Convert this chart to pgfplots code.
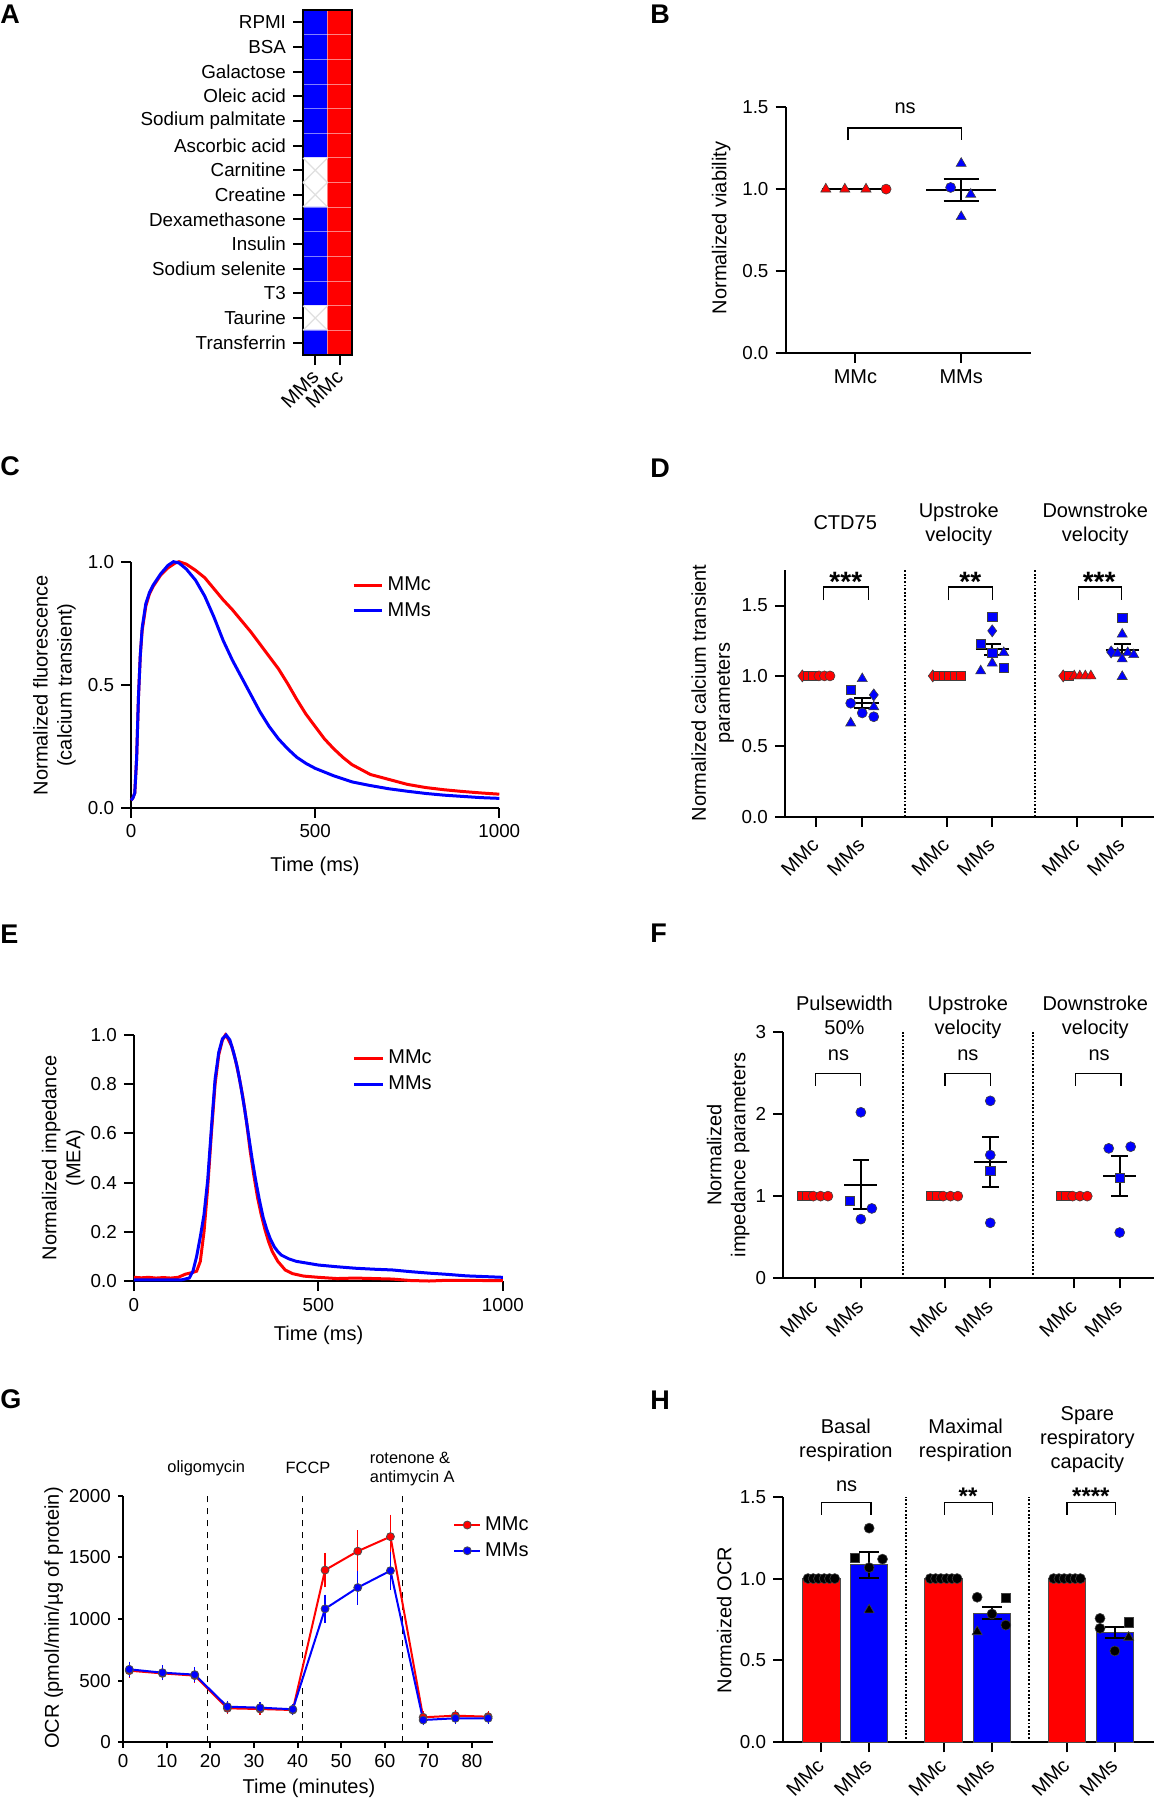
\documentclass[border=0pt]{standalone}
\usepackage{fontspec}
\setmainfont{Liberation Sans}
\usepackage{pgfplots}
\pgfplotsset{compat=1.18}

\definecolor{mred}{RGB}{255,0,0}
\definecolor{mblue}{RGB}{0,0,255}

\newcommand\fTick{\fontsize{9.4}{11}\selectfont}
\newcommand\fLab{\fontsize{10}{12}\selectfont}
\newcommand\fSmall{\fontsize{8.2}{9.5}\selectfont}
\newcommand\fPanel{\fontsize{13.5}{16}\selectfont\bfseries}
\newcommand\fStarD{\fontsize{14}{16}\selectfont\bfseries}
\newcommand\fStarH{\fontsize{12}{14}\selectfont\bfseries}

\tikzset{
  sep/.style={line width=0.9pt, dash pattern=on 0.9pt off 0.9pt},
  brk/.style={line width=0.6pt},
}
\pgfplotsset{
  prism/.style={
    anchor=south west, scale only axis, clip=false,
    axis x line=bottom, axis y line=left,
    axis line style={line width=1pt, -},
    tick align=outside, major tick length=5pt,
    tick style={line width=1pt, black},
    tick label style={font=\fTick},
    /pgf/number format/assume math mode=true,
    /pgf/number format/1000 sep={},
    scaled ticks=false,
  },
  dec1/.style={yticklabel style={/pgf/number format/.cd, fixed, fixed zerofill, precision=1, /tikz/.cd}},
  groups/.style={xticklabel style={font=\fLab, xshift=2pt, yshift=#1, rotate=45, anchor=east}},
  groups/.default=-5pt,
  dots/.style={only marks, scatter, scatter src=explicit symbolic, line width=0.3pt,
    scatter/classes={
      c={mark=*, mark size=2.5pt, fill=#1, draw=black!75},
      s={mark=square*, mark size=2.3pt, fill=#1, draw=black!75},
      t={mark=triangle*, mark size=2.9pt, fill=#1, draw=black!75},
      d={mark=diamond*, mark size=3pt, fill=#1, draw=black!75}}},
  sem/.style={black, line width=1pt, unbounded coords=jump, forget plot},
}

\begin{document}
\begin{tikzpicture}
\path[use as bounding box] (0pt,0pt) rectangle (577.5pt,-900pt);

% ---------------- A: medium composition
\begin{axis}[at={(151.5pt,-177.5pt)}, anchor=south west, scale only axis,
  width=24.5pt, height=172.5pt,
  xmin=-0.5, xmax=1.5, ymin=-0.5, ymax=13.5, y dir=reverse, enlargelimits=false,
  axis on top, tick pos=left, tick align=outside, major tick length=5pt,
  tick style={line width=1pt, black}, axis line style={line width=1.3pt},
  xtick={0,1}, xticklabels={MMs,MMc},
  ytick={0,1,...,13},
  yticklabels={RPMI,BSA,Galactose,Oleic acid,Sodium palmitate,Ascorbic acid,Carnitine,Creatine,Dexamethasone,Insulin,Sodium selenite,T3,Taurine,Transferrin},
  minor xtick={0.5}, minor ytick={0.5,1.5,...,12.5}, minor tick length=0pt,
  xminorgrids, yminorgrids, minor grid style={white, opacity=0.5, line width=0.4pt},
  tick label style={font=\fTick},
  xticklabel style={font=\fLab, xshift=2.5pt, yshift=-2pt, rotate=45, anchor=east},
  colormap={hm}{rgb255=(255,255,255) rgb255=(0,0,255) rgb255=(255,0,0)},
  point meta min=0, point meta max=2]
\addplot[matrix plot*, mesh/cols=2, point meta=explicit] table[meta=c] {
x y c
0 0 1
1 0 2
0 1 1
1 1 2
0 2 1
1 2 2
0 3 1
1 3 2
0 4 1
1 4 2
0 5 1
1 5 2
0 6 0
1 6 2
0 7 0
1 7 2
0 8 1
1 8 2
0 9 1
1 9 2
0 10 1
1 10 2
0 11 1
1 11 2
0 12 0
1 12 2
0 13 1
1 13 2
};
\addplot[only marks, mark=x, mark size=8.7pt, black!12, line width=0.6pt] coordinates {(0,6) (0,7) (0,12)};
\end{axis}

% ---------------- B: viability
\begin{axis}[prism, dec1, at={(392.75pt,-176.35pt)}, width=122.75pt, height=122.7pt,
  xmin=0.339, xmax=2.66, ymin=0, ymax=1.5,
  xtick={1,2}, xticklabels={MMc,MMs}, xticklabel style={font=\fLab},
  ytick={0,0.5,1,1.5}]
\addplot[sem] coordinates {(0.68,1) (1.32,1)};
\addplot[dots=mred] table[meta=c] {
x y c
0.72 1.0 t
0.90 1.0 t
1.10 1.0 t
1.29 1.0 c
};
\addplot[dots=mblue] table[meta=c] {
x y c
2.00 1.157 t
1.90 1.010 c
2.09 0.968 t
2.00 0.831 t
};
\addplot[sem] coordinates {(1.67,0.994) (2.33,0.994) (nan,nan) (2,0.925) (2,1.059) (nan,nan) (1.835,0.925) (2.165,0.925) (nan,nan) (1.835,1.059) (2.165,1.059)};
\draw[brk] (axis cs:0.93,1.30) |- (axis cs:2.0,1.374) -- (axis cs:2.0,1.30);
\node[font=\fLab, anchor=base] at (axis cs:1.47,1.462) {ns};
\end{axis}

% ---------------- C: calcium transient
\begin{axis}[prism, dec1, at={(65.55pt,-403.85pt)}, width=184.1pt, height=123pt,
  xmin=0, xmax=1000, ymin=0, ymax=1,
  xtick={0,500,1000}, ytick={0,0.5,1},
  legend style={at={(0.599,0.852)}, anchor=west, draw=none, fill=none, font=\fLab, inner sep=0pt, row sep=0.5pt},
  legend cell align=left,
  legend image code/.code={\draw[#1] (0pt,0pt) -- (14.3pt,0pt);}]
\addplot[mred, line width=1.5pt] coordinates {
(0,0.03) (5,0.04) (10,0.06) (15,0.2) (20,0.45) (25,0.62) (30,0.72) (40,0.82) (50,0.87)
(60,0.9) (80,0.945) (100,0.975) (120,0.995) (130,1.0) (150,0.99) (175,0.965) (200,0.935)
(225,0.89) (250,0.845) (275,0.805) (300,0.76) (325,0.715) (350,0.665) (375,0.615)
(400,0.565) (425,0.505) (450,0.44) (475,0.38) (500,0.33) (525,0.28) (550,0.24)
(575,0.205) (600,0.175) (650,0.135) (700,0.115) (750,0.095) (800,0.082) (850,0.073)
(900,0.066) (950,0.06) (1000,0.055)};
\addlegendentry{MMc}
\addplot[mblue, line width=1.5pt] coordinates {
(0,0.03) (5,0.04) (10,0.06) (15,0.2) (20,0.45) (25,0.62) (30,0.73) (40,0.83) (50,0.875)
(60,0.905) (80,0.95) (100,0.985) (115,1.0) (130,0.995) (150,0.97) (175,0.925) (200,0.86)
(225,0.775) (250,0.68) (275,0.6) (300,0.53) (325,0.46) (350,0.39) (375,0.33) (400,0.28)
(425,0.24) (450,0.205) (475,0.18) (500,0.16) (550,0.13) (600,0.105) (650,0.09)
(700,0.077) (750,0.067) (800,0.058) (850,0.051) (900,0.046) (950,0.041) (1000,0.038)};
\addlegendentry{MMs}
\end{axis}

% ---------------- D: calcium transient parameters
\begin{axis}[prism, groups, dec1, at={(392.4pt,-408.35pt)}, width=184.6pt, height=123.2pt,
  xmin=-0.68, xmax=7.33, ymin=0, ymax=1.75,
  xtick={0,1,2.83,3.82,5.66,6.64}, xticklabels={MMc,MMs,MMc,MMs,MMc,MMs},
  ytick={0,0.5,1,1.5}]
\draw[sep] (axis cs:1.925,0) -- (axis cs:1.925,1.75);
\draw[sep] (axis cs:4.74,0) -- (axis cs:4.74,1.75);
\addplot[dots=mred] table[meta=c] {
x y c
-0.30 1 d
-0.18 1 s
-0.06 1 s
0.06 1 c
0.18 1 c
0.30 1 c
2.53 1 d
2.65 1 s
2.77 1 s
2.89 1 s
3.01 1 s
3.13 1 s
5.36 1 d
5.48 1 s
5.60 1 t
5.72 1 t
5.84 1 t
5.96 1 t
};
\addplot[dots=mblue] table[meta=c] {
x y c
1.00 0.98 t
0.75 0.90 s
1.25 0.865 d
0.75 0.806 c
1.25 0.78 t
1.00 0.737 c
1.25 0.71 c
0.75 0.665 t
3.82 1.42 s
3.82 1.32 d
3.57 1.23 s
3.82 1.165 s
4.07 1.165 t
3.82 1.09 t
3.57 1.035 t
4.07 1.055 s
6.64 1.415 s
6.64 1.296 t
6.40 1.17 d
6.54 1.16 t
6.76 1.165 t
6.89 1.15 t
6.64 1.12 t
6.64 0.995 t
};
\addplot[sem] coordinates {(-0.36,1) (0.36,1)};
\addplot[sem] coordinates {(2.47,1) (3.19,1)};
\addplot[sem] coordinates {(5.30,1) (6.02,1)};
\addplot[sem] coordinates {(0.64,0.805) (1.36,0.805) (nan,nan) (1,0.77) (1,0.84) (nan,nan) (0.82,0.77) (1.18,0.77) (nan,nan) (0.82,0.84) (1.18,0.84)};
\addplot[sem] coordinates {(3.46,1.19) (4.18,1.19) (nan,nan) (3.82,1.15) (3.82,1.23) (nan,nan) (3.64,1.15) (4.00,1.15) (nan,nan) (3.64,1.23) (4.00,1.23)};
\addplot[sem] coordinates {(6.28,1.184) (7.00,1.184) (nan,nan) (6.64,1.155) (6.64,1.23) (nan,nan) (6.46,1.155) (6.82,1.155) (nan,nan) (6.46,1.23) (6.82,1.23)};
\draw[brk] (axis cs:0.16,1.539) |- (axis cs:1.13,1.631) -- (axis cs:1.13,1.539);
\draw[brk] (axis cs:2.87,1.539) |- (axis cs:3.83,1.631) -- (axis cs:3.83,1.539);
\draw[brk] (axis cs:5.69,1.539) |- (axis cs:6.63,1.631) -- (axis cs:6.63,1.539);
\node[font=\fStarD, anchor=base] at (axis cs:0.644,1.60) {***};
\node[font=\fStarD, anchor=base] at (axis cs:3.345,1.60) {**};
\node[font=\fStarD, anchor=base] at (axis cs:6.14,1.60) {***};
\end{axis}

% ---------------- E: impedance trace
\begin{axis}[prism, dec1, at={(66.95pt,-640.5pt)}, width=184.5pt, height=123pt,
  xmin=0, xmax=1000, ymin=0, ymax=1,
  xtick={0,500,1000}, ytick={0,0.2,...,1.0},
  legend style={at={(0.592,0.852)}, anchor=west, draw=none, fill=none, font=\fLab, inner sep=0pt, row sep=0.5pt},
  legend cell align=left,
  legend image code/.code={\draw[#1] (0pt,0pt) -- (14.3pt,0pt);}]
\addplot[mred, line width=1.5pt] coordinates {
(0,0.015) (20,0.013) (40,0.015) (60,0.012) (80,0.014) (100,0.012) (120,0.015) (140,0.028)
(160,0.035) (170,0.04) (180,0.08) (190,0.2) (200,0.38) (210,0.6) (220,0.8) (230,0.92)
(240,0.98) (248,1.0) (255,0.985) (265,0.955) (275,0.9) (285,0.83) (295,0.75) (305,0.65)
(315,0.53) (325,0.43) (335,0.34) (345,0.27) (355,0.21) (365,0.16) (375,0.12) (390,0.08)
(410,0.045) (430,0.03) (460,0.02) (500,0.015) (550,0.01) (600,0.012) (650,0.01)
(700,0.008) (750,0.002) (800,0.0) (850,0.003) (900,0.003) (950,0.002) (1000,0.002)};
\addlegendentry{MMc}
\addplot[mblue, line width=1.5pt] coordinates {
(0,0.005) (50,0.005) (100,0.005) (130,0.005) (150,0.012) (160,0.04) (170,0.1) (180,0.18)
(190,0.27) (200,0.41) (210,0.62) (220,0.82) (230,0.93) (240,0.985) (250,1.0) (260,0.98)
(270,0.93) (280,0.87) (290,0.79) (300,0.7) (310,0.6) (320,0.5) (330,0.41) (340,0.33)
(350,0.26) (360,0.21) (370,0.17) (380,0.14) (390,0.12) (400,0.105) (420,0.09) (440,0.08)
(460,0.075) (500,0.065) (550,0.058) (600,0.052) (650,0.048) (700,0.045) (750,0.038)
(800,0.032) (850,0.027) (900,0.021) (950,0.018) (1000,0.015)};
\addlegendentry{MMs}
\end{axis}

% ---------------- F: impedance parameters
\begin{axis}[prism, groups, at={(391.55pt,-639.15pt)}, width=185.45pt, height=123.3pt,
  xmin=-0.70, xmax=7.41, ymin=0, ymax=3,
  xtick={0,1,2.84,3.83,5.67,6.66}, xticklabels={MMc,MMs,MMc,MMs,MMc,MMs},
  ytick={0,1,2,3}]
\draw[sep] (axis cs:1.93,0) -- (axis cs:1.93,3);
\draw[sep] (axis cs:4.77,0) -- (axis cs:4.77,3);
\addplot[dots=mred] table[meta=c] {
x y c
-0.30 1 s
-0.18 1 s
-0.04 1 c
0.12 1 c
0.28 1 c
2.54 1 s
2.66 1 s
2.80 1 c
2.96 1 c
3.12 1 c
5.37 1 s
5.49 1 s
5.63 1 c
5.79 1 c
5.95 1 c
};
\addplot[dots=mblue] table[meta=c] {
x y c
1.00 2.02 c
0.75 0.943 s
1.24 0.85 c
1.00 0.72 c
3.83 2.159 c
3.83 1.5 c
3.83 1.309 s
3.83 0.675 c
6.42 1.581 c
6.90 1.601 c
6.66 1.223 s
6.66 0.557 c
};
\addplot[sem] coordinates {(-0.36,1) (0.36,1)};
\addplot[sem] coordinates {(2.48,1) (3.20,1)};
\addplot[sem] coordinates {(5.31,1) (6.03,1)};
\addplot[sem] coordinates {(0.64,1.134) (1.36,1.134) (nan,nan) (1,0.838) (1,1.439) (nan,nan) (0.82,0.838) (1.18,0.838) (nan,nan) (0.82,1.439) (1.18,1.439)};
\addplot[sem] coordinates {(3.47,1.411) (4.19,1.411) (nan,nan) (3.83,1.106) (3.83,1.716) (nan,nan) (3.65,1.106) (4.01,1.106) (nan,nan) (3.65,1.716) (4.01,1.716)};
\addplot[sem] coordinates {(6.30,1.244) (7.02,1.244) (nan,nan) (6.66,1.0) (6.66,1.488) (nan,nan) (6.48,1.0) (6.84,1.0) (nan,nan) (6.48,1.488) (6.84,1.488)};
\draw[brk] (axis cs:0,2.34) |- (axis cs:1,2.49) -- (axis cs:1,2.34);
\draw[brk] (axis cs:2.84,2.34) |- (axis cs:3.83,2.49) -- (axis cs:3.83,2.34);
\draw[brk] (axis cs:5.70,2.34) |- (axis cs:6.69,2.49) -- (axis cs:6.69,2.34);
\node[font=\fLab, anchor=base] at (axis cs:0.51,2.65) {ns};
\node[font=\fLab, anchor=base] at (axis cs:3.34,2.65) {ns};
\node[font=\fLab, anchor=base] at (axis cs:6.21,2.65) {ns};
\end{axis}

% ---------------- G: Seahorse OCR
\begin{axis}[prism, at={(61.6pt,-871.15pt)}, width=184.85pt, height=123.3pt,
  xmin=0, xmax=84.8, ymin=0, ymax=2000, major tick length=2.7pt,
  xtick={0,10,...,80}, ytick={0,500,...,2000},
  legend style={at={(0.892,0.829)}, anchor=west, draw=none, fill=none, font=\fLab, inner sep=0pt, row sep=0.5pt},
  legend cell align=left,
  legend image code/.code={\draw[mark repeat=2, mark phase=2, #1] plot coordinates {(0pt,0pt) (6.45pt,0pt) (12.9pt,0pt)};}]
\draw[dashed, line width=0.6pt] (axis cs:19.25,0) -- (axis cs:19.25,2000);
\draw[dashed, line width=0.6pt] (axis cs:41.2,0) -- (axis cs:41.2,2000);
\draw[dashed, line width=0.6pt] (axis cs:64.1,0) -- (axis cs:64.1,2000);
\addplot[mred, line width=1pt, mark=*, mark size=2pt, mark options={fill=mred, draw=black!70, line width=0.4pt},
  error bars/.cd, y dir=both, y explicit, error bar style={line width=0.6pt, mred},
  error mark options={mred, line width=0.6pt, mark size=2pt}] coordinates {
(1.4,581) +- (0,25) (9.0,559) +- (0,22) (16.4,541) +- (0,25) (23.9,276) +- (0,15)
(31.4,270) +- (0,12) (38.9,262) +- (0,12) (46.3,1397) +- (0,108) (53.8,1550) +- (0,138)
(61.3,1668) +- (0,146) (68.8,203) +- (0,15) (76.2,216) +- (0,12) (83.7,208) +- (0,12)};
\addlegendentry{MMc}
\addplot[mblue, line width=1pt, mark=*, mark size=2pt, mark options={fill=mblue, draw=black!70, line width=0.4pt},
  error bars/.cd, y dir=both, y explicit, error bar style={line width=0.6pt, mblue},
  error mark options={mblue, line width=0.6pt, mark size=2pt}] coordinates {
(1.4,592) +- (0,30) (9.0,565) +- (0,28) (16.4,549) +- (0,28) (23.9,289) +- (0,15)
(31.4,281) +- (0,12) (38.9,268) +- (0,12) (46.3,1083) +- (0,82) (53.8,1255) +- (0,105)
(61.3,1392) +- (0,122) (68.8,181) +- (0,12) (76.2,195) +- (0,12) (83.7,195) +- (0,12)};
\addlegendentry{MMs}
\end{axis}

% ---------------- H: normalized OCR
\begin{axis}[prism, groups=-2.5pt, dec1, at={(391.55pt,-871.15pt)}, width=185.45pt, height=122.8pt,
  xmin=-0.80, xmax=6.96, ymin=0, ymax=1.5,
  xtick={0,1,2.56,3.57,5.14,6.14}, xticklabels={MMc,MMs,MMc,MMs,MMc,MMs},
  ytick={0,0.5,1,1.5}]
\draw[sep] (axis cs:1.77,0) -- (axis cs:1.77,1.5);
\draw[sep] (axis cs:4.35,0) -- (axis cs:4.35,1.5);
\addplot[ybar, bar width=18.75pt, bar shift=0pt, fill=mred, draw=black!70, line width=0.5pt] coordinates {(0,1) (2.56,1) (5.14,1)};
\addplot[ybar, bar width=18.75pt, bar shift=0pt, fill=mblue, draw=black!70, line width=0.5pt] coordinates {(1,1.084) (3.57,0.788) (6.14,0.672)};
\addplot[dots=black] table[meta=c] {
x y c
-0.28 1 c
-0.17 1 c
-0.06 1 c
0.06 1 c
0.17 1 c
0.28 1 c
2.28 1 c
2.39 1 c
2.50 1 c
2.62 1 c
2.73 1 c
2.84 1 c
4.86 1 c
4.97 1 c
5.08 1 c
5.20 1 c
5.31 1 c
5.42 1 c
1.00 1.308 c
0.70 1.125 s
1.28 1.119 c
1.00 1.067 c
1.00 0.808 t
3.26 0.886 c
3.86 0.884 s
3.57 0.784 c
3.86 0.716 c
3.26 0.675 t
5.83 0.757 c
5.83 0.696 c
6.43 0.733 s
6.43 0.641 t
6.14 0.558 c
};
\addplot[sem] coordinates {(1,1.006) (1,1.165) (nan,nan) (0.79,1.006) (1.21,1.006) (nan,nan) (0.79,1.165) (1.21,1.165)};
\addplot[sem] coordinates {(3.57,0.751) (3.57,0.829) (nan,nan) (3.36,0.751) (3.78,0.751) (nan,nan) (3.36,0.829) (3.78,0.829)};
\addplot[sem] coordinates {(6.14,0.635) (6.14,0.706) (nan,nan) (5.93,0.635) (6.35,0.635) (nan,nan) (5.93,0.706) (6.35,0.706)};
\draw[brk] (axis cs:0,1.39) |- (axis cs:1.04,1.463) -- (axis cs:1.04,1.39);
\draw[brk] (axis cs:2.57,1.39) |- (axis cs:3.58,1.463) -- (axis cs:3.58,1.39);
\draw[brk] (axis cs:5.14,1.39) |- (axis cs:6.15,1.463) -- (axis cs:6.15,1.39);
\node[font=\fLab, anchor=base] at (axis cs:0.53,1.533) {ns};
\node[font=\fStarH, anchor=base] at (axis cs:3.07,1.45) {**};
\node[font=\fStarH, anchor=base] at (axis cs:5.64,1.45) {****};
\end{axis}

% ---------------- text around the panels (pixel units of the reference)
\begin{scope}[x=0.5pt, y=-0.5pt]
\node[font=\fPanel, anchor=west, inner sep=0pt] at (0,14.5) {A};
\node[font=\fPanel, anchor=west, inner sep=0pt] at (650,14) {B};
\node[font=\fPanel, anchor=west, inner sep=0pt] at (0,466) {C};
\node[font=\fPanel, anchor=west, inner sep=0pt] at (650,468) {D};
\node[font=\fPanel, anchor=west, inner sep=0pt] at (0,934) {E};
\node[font=\fPanel, anchor=west, inner sep=0pt] at (650,933) {F};
\node[font=\fPanel, anchor=west, inner sep=0pt] at (0,1399) {G};
\node[font=\fPanel, anchor=west, inner sep=0pt] at (650,1400) {H};

\node[font=\fLab, rotate=90] at (721.3,228) {Normalized viability};
\node[font=\fLab, rotate=90, align=center] at (54.5,685) {Normalized fluorescence\\(calcium transient)};
\node[font=\fLab, rotate=90, align=center] at (712.8,693) {Normalized calcium transient\\parameters};
\node[font=\fLab, rotate=90, align=center] at (63.2,1158) {Normalized impedance\\(MEA)};
\node[font=\fLab, rotate=90, align=center] at (728.3,1155) {Normalized\\impedance parameters};
\node[font=\fLab, rotate=90] at (53.6,1618) {OCR (pmol/min/µg of protein)};
\node[font=\fLab, rotate=90] at (724.1,1620) {Normaized OCR};

\node[font=\fLab, anchor=base] at (315,871) {Time (ms)};
\node[font=\fLab, anchor=base] at (318.6,1340.7) {Time (ms)};
\node[font=\fLab, anchor=base] at (309,1793.3) {Time (minutes)};

\node[font=\fLab, anchor=north, inner sep=0pt] at (845.2,515) {CTD75};
\node[font=\fLab, anchor=north, inner sep=0pt, align=center] at (958.8,502.7) {Upstroke\\velocity};
\node[font=\fLab, anchor=north, inner sep=0pt, align=center] at (1095.3,502.7) {Downstroke\\velocity};

\node[font=\fLab, anchor=north, inner sep=0pt, align=center] at (844.5,996) {Pulsewidth\\50\%};
\node[font=\fLab, anchor=north, inner sep=0pt, align=center] at (968,996) {Upstroke\\velocity};
\node[font=\fLab, anchor=north, inner sep=0pt, align=center] at (1095.3,996) {Downstroke\\velocity};

\node[font=\fLab, anchor=north, inner sep=0pt, align=center] at (845.9,1418.3) {Basal\\respiration};
\node[font=\fLab, anchor=north, inner sep=0pt, align=center] at (965.6,1418.3) {Maximal\\respiration};
\node[font=\fLab, anchor=north, inner sep=0pt, align=center] at (1087.4,1406) {Spare\\respiratory\\capacity};

\node[font=\fSmall, anchor=base] at (206.2,1472.7) {oligomycin};
\node[font=\fSmall, anchor=base] at (308,1473) {FCCP};
\node[font=\fSmall, anchor=base west, inner sep=0pt] at (369.5,1463) {rotenone \&};
\node[font=\fSmall, anchor=base west, inner sep=0pt] at (369.5,1482) {antimycin A};
\end{scope}
\end{tikzpicture}
\end{document}
